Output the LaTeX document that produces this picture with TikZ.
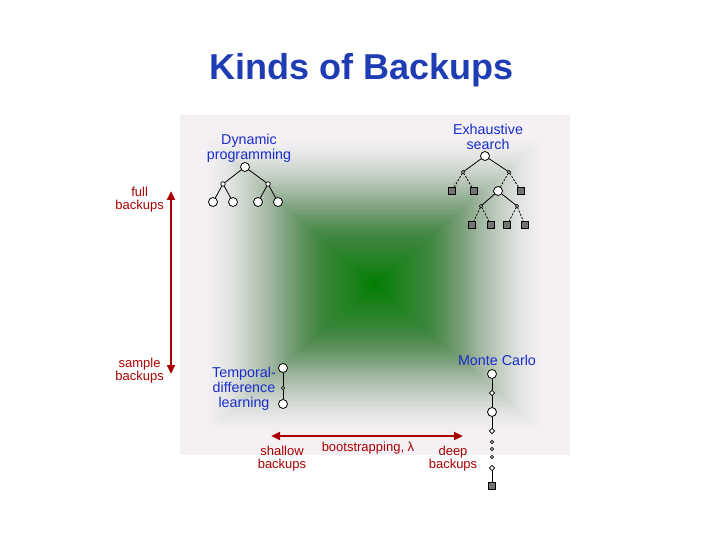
\documentclass[tikz,border=0pt]{standalone}
\usepackage{fontspec}
\setmainfont{Liberation Sans}
\usetikzlibrary{arrows.meta,shapes.geometric}
\definecolor{panel}{RGB}{244,240,244}
\definecolor{mygreen}{RGB}{0,125,0}
\definecolor{sage}{RGB}{100,140,100}
\definecolor{titleblue}{RGB}{30,60,180}
\definecolor{lblue}{RGB}{25,45,205}
\definecolor{dred}{RGB}{170,0,0}
\definecolor{termgray}{RGB}{115,115,115}
\tikzset{
  state/.style={circle,draw,fill=white,inner sep=0pt,minimum size=9pt,line width=0.8pt},
  act/.style={circle,draw,fill=white,inner sep=0pt,minimum size=4.5pt,line width=0.7pt},
  dact/.style={diamond,draw,fill=white,inner sep=0pt,minimum size=5.5pt,line width=0.7pt},
  tiny/.style={diamond,draw,fill=white,inner sep=0pt,minimum size=3.5pt,line width=0.6pt},
  term/.style={rectangle,draw,fill=termgray,inner sep=0pt,minimum size=7.5pt,line width=0.8pt},
  edge/.style={line width=0.8pt},
  dedge/.style={line width=0.8pt,dash pattern=on 2pt off 1.5pt},
  blab/.style={text=lblue,align=center,font=\fontsize{14.3}{15}\selectfont,inner sep=0pt},
  rlab/.style={text=dred,align=center,font=\fontsize{13}{13}\selectfont,inner sep=0pt},
  redarrow/.style={dred,line width=2.5pt,{Triangle[length=9pt,width=8pt]}-{Triangle[length=9pt,width=8pt]}}
}
\begin{document}
\begin{tikzpicture}[x=1pt,y=-1pt]
\useasboundingbox (0,0) rectangle (720,540);
\fill[white] (0,0) rectangle (720,540);
% panel with rectangular green shading
\foreach \i in {100,99,...,1}{
  \pgfmathsetmacro\t{\i/100}
  \pgfmathsetmacro\n{max(0.00001,1-\t/0.6)}
  \pgfmathsetmacro\u{100*\n*sqrt(\n)}
  \pgfmathsetmacro\x{min(1,max(0,(\t-0.25)/0.65))}
  \pgfmathsetmacro\v{100*(1-\x*\x*(3-2*\x))}
  \fill[mygreen!\u!sage!\v!panel] (375-195*\t,285-170*\t) rectangle (375+195*\t,285+170*\t);
}
% title
\node[text=titleblue,font=\fontsize{36}{40}\selectfont\bfseries,inner sep=0pt] (title) at (362,70) {Kinds of Backups};
% Dynamic programming
\node[blab] (dplab) at (249,148) {Dynamic\\programming};
\node[state] (dp0) at (245,167) {};
\node[act] (dpa1) at (223,184) {};
\node[act] (dpa2) at (268,184) {};
\node[state] (dp1) at (213,202) {};
\node[state] (dp2) at (233,202) {};
\node[state] (dp3) at (258,202) {};
\node[state] (dp4) at (278,202) {};
\draw[edge] (dp0)--(dpa1) (dp0)--(dpa2) (dpa1)--(dp1) (dpa1)--(dp2) (dpa2)--(dp3) (dpa2)--(dp4);
% Exhaustive search
\node[blab] (eslab) at (488,137) {Exhaustive\\search};
\node[state] (es0) at (485,156) {};
\node[tiny] (esa1) at (463,172) {};
\node[tiny] (esa2) at (509,172) {};
\node[term] (est1) at (452,191) {};
\node[term] (est2) at (474,191) {};
\node[state] (es1) at (498,191) {};
\node[term] (est3) at (521,191) {};
\node[tiny] (esa3) at (481,206) {};
\node[tiny] (esa4) at (517,206) {};
\node[term] (est4) at (472,225) {};
\node[term] (est5) at (491,225) {};
\node[term] (est6) at (507,225) {};
\node[term] (est7) at (525,225) {};
\draw[edge] (es0)--(esa1) (es0)--(esa2) (es1)--(esa3) (es1)--(esa4);
\draw[dedge] (esa1)--(est1) (esa1)--(est2) (esa2)--(es1) (esa2)--(est3)
  (esa3)--(est4) (esa3)--(est5) (esa4)--(est6) (esa4)--(est7);
% Temporal-difference learning
\node[blab] (tdlab) at (244,389) {Temporal-\\difference\\learning};
\node[state] (td0) at (283,368) {};
\node[tiny] (tda) at (283,388) {};
\node[state] (td1) at (283,404) {};
\draw[edge] (td0)--(tda)--(td1);
% Monte Carlo
\node[blab] (mclab) at (497,360) {Monte Carlo};
\node[state] (mc0) at (492,374) {};
\node[dact] (mca1) at (492,393) {};
\node[state] (mc1) at (492,412) {};
\node[dact] (mca2) at (492,431) {};
\node[tiny] (mcd1) at (492,442) {};
\node[tiny] (mcd2) at (492,449) {};
\node[tiny] (mcd3) at (492,457) {};
\node[dact] (mca3) at (492,468) {};
\node[term] (mct) at (492,486) {};
\draw[edge] (mc0)--(mca1)--(mc1)--(mca2) (mca3)--(mct);
% vertical axis
\coordinate (vtop) at (171,191);
\coordinate (vbot) at (171,374);
\draw[redarrow] (vtop)--(vbot);
\node[rlab,anchor=east] (full) at (164,200) {full\\backups};
\node[rlab,anchor=east] (sample) at (164,371) {sample\\backups};
% horizontal axis
\coordinate (hleft) at (271,436);
\coordinate (hright) at (463,436);
\draw[redarrow] (hleft)--(hright);
\node[rlab] (boot) at (368,448) {bootstrapping, λ};
\node[rlab] (shallow) at (282,459) {shallow\\backups};
\node[rlab] (deep) at (453,459) {deep\\backups};
\end{tikzpicture}
\end{document}
